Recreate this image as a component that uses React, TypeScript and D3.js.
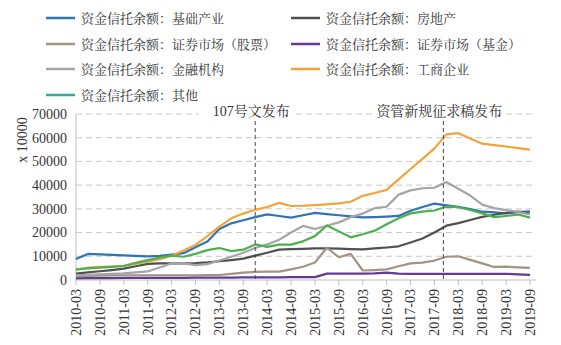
import React from "react";
import * as d3 from "d3";

const quarters = [
  "2010-03","2010-06","2010-09","2010-12","2011-03","2011-06","2011-09","2011-12",
  "2012-03","2012-06","2012-09","2012-12","2013-03","2013-06","2013-09","2013-12",
  "2014-03","2014-06","2014-09","2014-12","2015-03","2015-06","2015-09","2015-12",
  "2016-03","2016-06","2016-09","2016-12","2017-03","2017-06","2017-09","2017-12",
  "2018-03","2018-06","2018-09","2018-12","2019-03","2019-06","2019-09",
];
const tickLabels = quarters.filter((_, i) => i % 2 === 0);
const yTicks = [0, 10000, 20000, 30000, 40000, 50000, 60000, 70000];

const infra = [8900, 11000, 10800, 10600, 10400, 10200, 10000, 10200, 10700, 11300, 13800, 16200, 21500, 23900, 25200, 26500, 27700, 27000, 26300, 27300, 28300, 27800, 27300, 26800, 26400, 26500, 26700, 27000, 29200, 30800, 32200, 31500, 30900, 29900, 28800, 28500, 28100, 28600, 29000];
const realEstate = [2700, 3200, 3700, 4200, 4800, 5800, 6800, 7000, 7000, 7000, 7100, 7400, 7900, 8400, 9000, 10300, 11500, 12800, 13000, 13100, 13300, 13300, 13200, 13000, 12900, 13300, 13700, 14200, 15800, 17500, 20000, 22900, 24000, 25300, 26600, 27500, 28300, 28800, 28000];
const stocks = [1500, 1700, 1800, 1900, 2000, 2000, 2000, 2000, 2000, 2000, 2000, 2100, 2100, 2600, 3100, 3400, 3500, 3500, 4500, 5600, 7400, 13600, 9600, 11000, 4000, 4200, 4500, 5800, 7000, 7300, 8200, 9800, 10000, 8500, 7000, 5500, 5600, 5300, 5100];
const funds = [700, 800, 800, 800, 900, 900, 900, 900, 900, 900, 1000, 1000, 1000, 1000, 1100, 1100, 1100, 1100, 1200, 1200, 1200, 2700, 2700, 2700, 2700, 2800, 3100, 2700, 2600, 2600, 2600, 2600, 2600, 2600, 2600, 2600, 2600, 2400, 2200];
const financial = [2000, 2200, 2400, 2600, 2800, 3200, 3600, 5300, 7000, 7000, 6300, 6700, 8200, 9800, 11500, 13500, 15000, 17000, 20000, 22800, 21500, 22900, 24300, 26500, 28000, 30300, 30900, 36000, 37800, 38700, 38900, 41300, 38500, 35600, 31800, 30300, 29500, 28700, 27600];
const industry = [4200, 5200, 5500, 5700, 6000, 6800, 7700, 8800, 10200, 12400, 14800, 18500, 22500, 26000, 28000, 29600, 30800, 32500, 31200, 31300, 31600, 31900, 32300, 33000, 35500, 36700, 38000, 42400, 46800, 51100, 55500, 61400, 61900, 59700, 57500, 56900, 56300, 55600, 55000];
const others = [4500, 4900, 5200, 5500, 5900, 7200, 8400, 9500, 10300, 9800, 11000, 12600, 13500, 12200, 12800, 15000, 14000, 14900, 14900, 16300, 18500, 23000, 20500, 18000, 19300, 20800, 23500, 26000, 28100, 28800, 29300, 30900, 30700, 29500, 28100, 26500, 27000, 27600, 26300];

const seriesNames = [
  "资金信托余额：基础产业",
  "资金信托余额：房地产",
  "资金信托余额：证券市场（股票）",
  "资金信托余额：证券市场（基金）",
  "资金信托余额：金融机构",
  "资金信托余额：工商企业",
  "资金信托余额：其他",
];
const seriesValues = [infra, realEstate, stocks, funds, financial, industry, others];
const lineColors = ["#2f74b5", "#505050", "#a39383", "#633b95", "#a5a5a5", "#f2a33a", "#4cb04e"];
const legendColors = ["#2f74b5", "#505050", "#a39383", "#633b95", "#a5a5a5", "#f2a33a", "#36a89c"];

const events = [
  { label: "107号文发布", at: 15 },
  { label: "资管新规征求稿发布", at: 30.75 },
];

const FONT = "'Liberation Serif', 'Times New Roman', 'Noto Serif CJK SC', 'Noto Sans CJK SC', serif";

export default function App() {
  const W = 561, H = 345;
  const x = d3.scaleLinear().domain([0, quarters.length - 1]).range([76, 530]);
  const y = d3.scaleLinear().domain([0, 70000]).range([280, 114]);
  const line = d3.line<number>().x((_, i) => x(i)).y((d) => y(d));

  const legendRows = [18, 44, 69, 95];
  const legendCols = [46, 291];

  return (
    <svg width={W} height={H} style={{ position: "absolute", left: 0, top: 0, background: "#fff" }} fontFamily={FONT}>
      {/* grid */}
      {yTicks.filter((t) => t > 0).map((t) => (
        <line key={t} x1={76} x2={536} y1={y(t)} y2={y(t)} stroke="#c8c8c8" strokeWidth={1} strokeDasharray="6,4" />
      ))}
      {/* axes */}
      <line x1={76} x2={76} y1={114} y2={280} stroke="#bfbfbf" strokeWidth={1} />
      <line x1={76} x2={536} y1={280} y2={280} stroke="#bfbfbf" strokeWidth={1} />
      {tickLabels.map((q) => {
        const i = quarters.indexOf(q);
        return <line key={q} x1={x(i)} x2={x(i)} y1={280} y2={285} stroke="#bfbfbf" strokeWidth={1} />;
      })}
      {yTicks.map((t) => (
        <text key={t} x={67} y={y(t)} dy="0.35em" textAnchor="end" fontSize={14} fill="#333">{t}</text>
      ))}
      {tickLabels.map((q) => {
        const i = quarters.indexOf(q);
        return (
          <text key={q} transform={`translate(${x(i)},289) rotate(-90)`} dy="0.35em" textAnchor="end" fontSize={14} fill="#333">{q}</text>
        );
      })}
      <text transform="translate(22,140) rotate(-90)" textAnchor="middle" dy="0.35em" fontSize={14} fill="#333">x 10000</text>

      {/* series */}
      {seriesValues.map((vals, k) => (
        <path key={k} d={line(vals) || ""} fill="none" stroke={lineColors[k]} strokeWidth={2.2} strokeLinejoin="round" />
      ))}

      {/* event markers */}
      {events.map((e) => {
        const ex = x(e.at);
        return (
          <g key={e.label}>
            <line x1={ex} x2={ex} y1={121} y2={280} stroke="#444" strokeWidth={1} strokeDasharray="4,3" />
            <rect x={ex - 4 - e.label.length * 7.5} y={103} width={e.label.length * 15 - 8} height={16} fill="#fff" />
            <text x={ex - 4} y={111} dy="0.35em" textAnchor="middle" fontSize={14} fill="#333">{e.label}</text>
          </g>
        );
      })}

      {/* legend */}
      {seriesNames.map((name, k) => {
        const col = k % 2;
        const row = Math.floor(k / 2);
        const lx = legendCols[col];
        const ly = legendRows[row];
        return (
          <g key={name}>
            <line x1={lx} x2={lx + 29} y1={ly} y2={ly} stroke={legendColors[k]} strokeWidth={2.5} />
            <text x={lx + 35} y={ly} dy="0.35em" fontSize={13} fill="#333">{name}</text>
          </g>
        );
      })}
    </svg>
  );
}
